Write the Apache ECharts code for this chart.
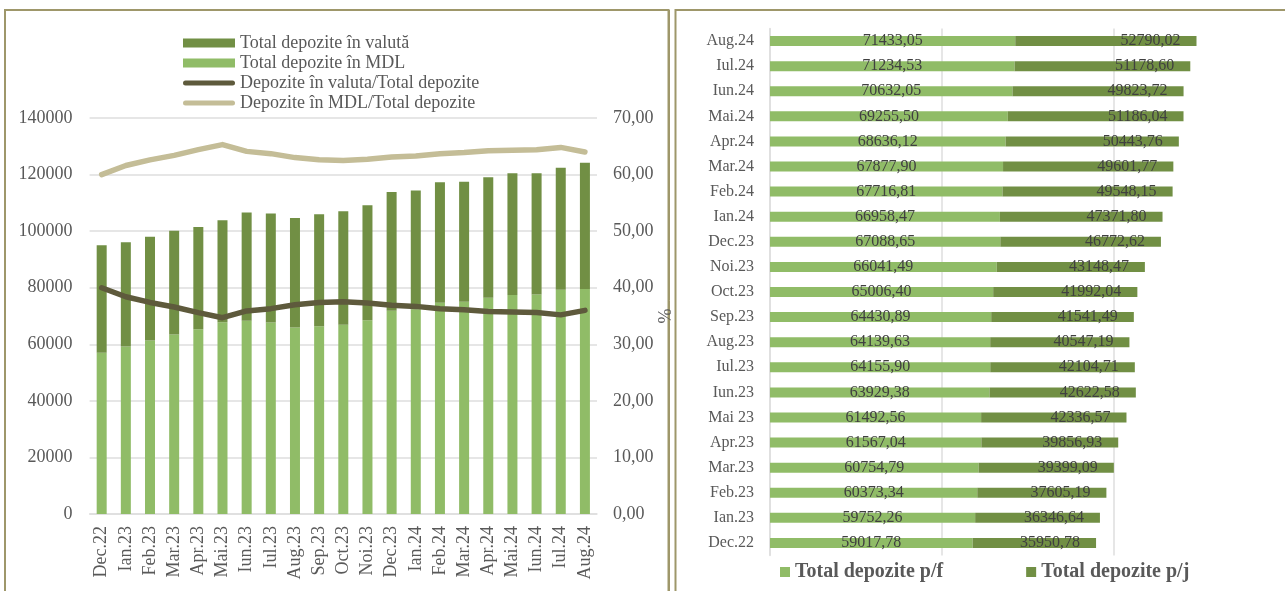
<!DOCTYPE html>
<html>
<head>
<meta charset="utf-8">
<script src="https://cdn.jsdelivr.net/npm/echarts@6/dist/echarts.min.js"></script>
<style>
  html, body { margin: 0; padding: 0; background: #fff; }
  #chart { width: 1285px; height: 591px; }
</style>
</head>
<body>
<div id="chart"></div>
<script>
// left chart: structure by currency
const monthsLeft = ["Dec.22", "Ian.23", "Feb.23", "Mar.23", "Apr.23", "Mai.23", "Iun.23", "Iul.23", "Aug.23", "Sep.23", "Oct.23",
  "Noi.23", "Dec.23", "Ian.24", "Feb.24", "Mar.24", "Apr.24", "Mai.24", "Iun.24", "Iul.24", "Aug.24"];
const depMDL = [56981, 59197, 61335, 63498, 65317, 67800, 68300, 67688, 65953, 66339, 66874,
  68462, 71846, 72371, 74698, 75070, 76449, 77444, 77574, 79324, 79503];
const depValuta = [37988, 36902, 36644, 36656, 36107, 36029, 38252, 38573, 38734, 39633, 40124,
  40728, 42015, 41959, 42567, 42410, 42631, 42998, 42882, 43089, 44720];
const shareValuta = [40.0, 38.4, 37.4, 36.6, 35.6, 34.7, 35.9, 36.3, 37.0, 37.4, 37.5,
  37.3, 36.9, 36.7, 36.3, 36.1, 35.8, 35.7, 35.6, 35.2, 36.0];
const shareMDL = [60.0, 61.6, 62.6, 63.4, 64.4, 65.3, 64.1, 63.7, 63.0, 62.6, 62.5,
  62.7, 63.1, 63.3, 63.7, 63.9, 64.2, 64.3, 64.4, 64.8, 64.0];

// right chart: individuals vs legal entities
const monthsRight = ["Dec.22", "Ian.23", "Feb.23", "Mar.23", "Apr.23", "Mai 23", "Iun.23", "Iul.23", "Aug.23", "Sep.23", "Oct.23",
  "Noi.23", "Dec.23", "Ian.24", "Feb.24", "Mar.24", "Apr.24", "Mai.24", "Iun.24", "Iul.24", "Aug.24"];
const depPF = [59017.78, 59752.26, 60373.34, 60754.79, 61567.04, 61492.56, 63929.38, 64155.90, 64139.63, 64430.89, 65006.40,
  66041.49, 67088.65, 66958.47, 67716.81, 67877.90, 68636.12, 69255.50, 70632.05, 71234.53, 71433.05];
const depPJ = [35950.78, 36346.64, 37605.19, 39399.09, 39856.93, 42336.57, 42622.58, 42104.71, 40547.19, 41541.49, 41992.04,
  43148.47, 46772.62, 47371.80, 49548.15, 49601.77, 50443.76, 51186.04, 49823.72, 51178.60, 52790.02];

const FONT = "Liberation Serif";
const GREY = "#595959";
const DARK_GREEN = "#718F44";
const LIGHT_GREEN = "#90BC67";
const GRID_COLOR = "#dedede";
const FRAME = "#9E976A";
// thick rounded stroke used as legend icon for the two lines
const LINE_ICON = "path://M2.5,0L49.5,0A2.5,2.5,0,0,1,49.5,5L2.5,5A2.5,2.5,0,0,1,2.5,0Z";

const comma2 = (v) => Number(v).toFixed(2).replace(".", ",");

const chart = echarts.init(document.getElementById("chart"));

const option = {
  backgroundColor: "#fff",
  animation: false,
  textStyle: { fontFamily: FONT },

  legend: [
    {
      orient: "vertical",
      left: 183,
      top: 34,
      padding: 0,
      itemWidth: 52,
      itemHeight: 9,
      itemGap: 2,
      textStyle: { fontFamily: FONT, fontSize: 18, color: GREY, lineHeight: 18 },
      data: [
        { name: "Total depozite în valută", icon: "rect" },
        { name: "Total depozite în MDL", icon: "rect" },
        { name: "Depozite în valuta/Total depozite", icon: LINE_ICON },
        { name: "Depozite în MDL/Total depozite", icon: LINE_ICON },
      ],
    },
    {
      orient: "horizontal",
      left: 780,
      top: 562,
      padding: 0,
      itemWidth: 10,
      itemHeight: 10,
      itemGap: 83,
      textStyle: { fontFamily: FONT, fontSize: 20, fontWeight: "bold", color: GREY, lineHeight: 20 },
      data: [
        { name: "Total depozite p/f", icon: "rect" },
        { name: "Total depozite p/j", icon: "rect" },
      ],
    },
  ],

  grid: [
    { left: 89.6, width: 507.4, top: 118, height: 396 },
    { left: 770, right: 0, top: 28.5, height: 527 },
  ],

  xAxis: [
    {
      type: "category",
      gridIndex: 0,
      data: monthsLeft,
      axisLine: { lineStyle: { color: GRID_COLOR, width: 1.5 } },
      axisTick: { show: false },
      axisLabel: { rotate: 90, fontFamily: FONT, fontSize: 18, color: GREY, margin: 12 },
    },
    {
      type: "value",
      gridIndex: 1,
      min: 0,
      max: 150000,
      interval: 50000,
      axisLine: { show: false },
      axisTick: { show: false },
      axisLabel: { show: false },
      splitLine: { show: true, showMaxLine: false, lineStyle: { color: GRID_COLOR, width: 1.5 } },
    },
  ],

  yAxis: [
    {
      type: "value",
      gridIndex: 0,
      min: 0,
      max: 140000,
      interval: 20000,
      axisLine: { show: false },
      axisTick: { show: false },
      axisLabel: { fontFamily: FONT, fontSize: 18, color: GREY, margin: 17, formatter: (v) => String(v) },
      splitLine: { lineStyle: { color: GRID_COLOR, width: 1.5 } },
    },
    {
      type: "value",
      gridIndex: 0,
      min: 0,
      max: 70,
      interval: 10,
      position: "right",
      name: "%",
      nameLocation: "middle",
      nameGap: 43,
      nameRotate: 90,
      nameTextStyle: { fontFamily: FONT, fontSize: 18, color: GREY },
      axisLine: { show: false },
      axisTick: { show: false },
      axisLabel: { fontFamily: FONT, fontSize: 18, color: GREY, margin: 16, formatter: comma2 },
      splitLine: { show: false },
    },
    {
      type: "category",
      gridIndex: 1,
      data: monthsRight,
      axisLine: { lineStyle: { color: GRID_COLOR, width: 1.5 } },
      axisTick: { show: false },
      axisLabel: { fontFamily: FONT, fontSize: 16, color: GREY, margin: 16 },
    },
  ],

  series: [
    {
      name: "Total depozite în MDL",
      type: "bar",
      stack: "left",
      xAxisIndex: 0,
      yAxisIndex: 0,
      barWidth: 10,
      itemStyle: { color: LIGHT_GREEN },
      data: depMDL,
    },
    {
      name: "Total depozite în valută",
      type: "bar",
      stack: "left",
      xAxisIndex: 0,
      yAxisIndex: 0,
      barWidth: 10,
      itemStyle: { color: DARK_GREEN },
      data: depValuta,
    },
    {
      name: "Depozite în valuta/Total depozite",
      type: "line",
      xAxisIndex: 0,
      yAxisIndex: 1,
      symbol: "none",
      lineStyle: { color: "#5E5A3C", width: 5.5, cap: "round", join: "round" },
      itemStyle: { color: "#5E5A3C" },
      data: shareValuta,
      z: 5,
    },
    {
      name: "Depozite în MDL/Total depozite",
      type: "line",
      xAxisIndex: 0,
      yAxisIndex: 1,
      symbol: "none",
      lineStyle: { color: "#C4BD97", width: 5.5, cap: "round", join: "round" },
      itemStyle: { color: "#C4BD97" },
      data: shareMDL,
      z: 5,
    },
    {
      name: "Total depozite p/f",
      type: "bar",
      stack: "right",
      xAxisIndex: 1,
      yAxisIndex: 2,
      barWidth: 10,
      itemStyle: { color: LIGHT_GREEN },
      label: {
        show: true,
        position: "inside",
        fontFamily: FONT,
        fontSize: 16,
        color: "#404040",
        formatter: (p) => comma2(p.value),
      },
      data: depPF,
    },
    {
      name: "Total depozite p/j",
      type: "bar",
      stack: "right",
      xAxisIndex: 1,
      yAxisIndex: 2,
      barWidth: 10,
      itemStyle: { color: DARK_GREEN },
      label: {
        show: true,
        position: "insideRight",
        distance: 16,
        fontFamily: FONT,
        fontSize: 16,
        color: "#404040",
        formatter: (p) => comma2(p.value),
      },
      data: depPJ,
    },
  ],

  // panel frames
  graphic: [
    {
      type: "polyline",
      silent: true,
      shape: { points: [[5, 591], [5, 10], [668.5, 10], [668.5, 591]] },
      style: { stroke: FRAME, lineWidth: 2, fill: null },
    },
    {
      type: "line",
      silent: true,
      shape: { x1: 669.5, y1: 10, x2: 669.5, y2: 591 },
      style: { stroke: FRAME, lineWidth: 1 },
    },
    {
      type: "polyline",
      silent: true,
      shape: { points: [[675.5, 591], [675.5, 10], [1285, 10]] },
      style: { stroke: FRAME, lineWidth: 2, fill: null },
    },
  ],
};

chart.setOption(option);
</script>
</body>
</html>
